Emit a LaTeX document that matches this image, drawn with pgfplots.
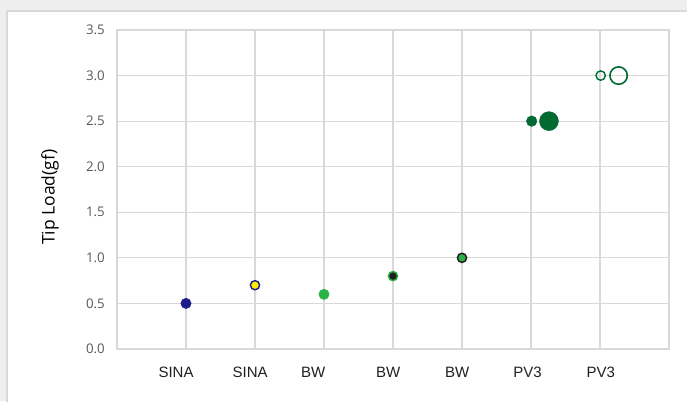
\documentclass[border=0pt]{standalone}
\usepackage{pgfplots}
\pgfplotsset{compat=1.18}
\usepackage{fontspec}
\setmainfont{Liberation Sans}
\newfontfamily\tickfont{Open Sans}
\definecolor{gridgrey}{HTML}{D9D9D9}
\definecolor{bggrey}{HTML}{EEEEEE}
\definecolor{tickgrey}{HTML}{595959}
\definecolor{navy}{HTML}{1B1D8A}
\definecolor{yel}{HTML}{FFEC00}
\definecolor{grn}{HTML}{2AB24A}
\definecolor{blk}{HTML}{231F20}
\definecolor{dgrn}{HTML}{006A30}
\begin{document}
\begin{tikzpicture}
\useasboundingbox (0,0) rectangle (687pt,401pt);
\fill[bggrey] (0,0) rectangle (687pt,401pt);
\fill[white] (7pt,0) rectangle (687pt,390pt);
\draw[gridgrey, line width=1.2pt] (7pt,-1pt) -- (7pt,390pt) -- (688pt,390pt);
\begin{axis}[
  at={(117pt,52pt)}, anchor=south west,
  scale only axis, width=552pt, height=319pt,
  xmin=0, xmax=8, ymin=0, ymax=3.5,
  xtick={1,2,3,4,5,6,7}, xticklabels={},
  ytick={0,0.5,1,1.5,2,2.5,3,3.5},
  major tick length=0pt,
  xmajorgrids, ymajorgrids,
  grid style={gridgrey, line width=1.1pt},
  axis line style={gridgrey, line width=1.1pt},
  yticklabel style={font=\tickfont\fontsize{13.3}{13.3}\selectfont, text=tickgrey, anchor=east, inner sep=0pt, xshift=-12pt,
    /pgf/number format/fixed, /pgf/number format/fixed zerofill, /pgf/number format/precision=1},
  /pgf/number format/assume math mode=true,
  extra x ticks={0.856,1.93,2.845,3.93,4.93,5.95,7.01},
  extra x tick labels={SINA,SINA,BW,BW,BW,PV3,PV3},
  extra x tick style={grid=none, major tick length=0pt,
    xticklabel style={font=\fontsize{15}{15}\selectfont, text=blk, anchor=base, inner sep=0pt, yshift=-28.5pt}},
  ylabel={Tip Load(gf)},
  ylabel style={font=\tickfont\fontsize{17.5}{17.5}\selectfont, text=black, at={(axis description cs:-0.1214,0.476)}, anchor=center},
  clip=false,
]
\addplot[only marks, mark=*, mark size=5.2pt, mark options={fill=navy, draw=navy, line width=0.4pt}] coordinates {(1,0.5)};
\addplot[only marks, mark=*, mark size=4.6pt, mark options={fill=yel, draw=navy, line width=1.4pt}] coordinates {(2,0.7)};
\addplot[only marks, mark=*, mark size=5.2pt, mark options={fill=grn, draw=grn, line width=0.4pt}] coordinates {(3,0.6)};
\addplot[only marks, mark=*, mark size=4.6pt, mark options={fill=blk, draw=grn, line width=1.4pt}] coordinates {(4,0.8)};
\addplot[only marks, mark=*, mark size=4.6pt, mark options={fill=grn, draw=blk, line width=1.5pt}] coordinates {(5,1.0)};
\addplot[only marks, mark=*, mark size=5.3pt, mark options={fill=dgrn, draw=dgrn, line width=0.4pt}] coordinates {(6.01,2.5)};
\addplot[only marks, mark=*, mark size=9.5pt, mark options={fill=dgrn, draw=dgrn, line width=0.4pt}] coordinates {(6.26,2.5)};
\addplot[only marks, mark=o, mark size=4.7pt, mark options={draw=dgrn, line width=1.4pt}] coordinates {(7.01,3.0)};
\addplot[only marks, mark=o, mark size=8.7pt, mark options={draw=dgrn, line width=1.6pt}] coordinates {(7.27,3.0)};
\end{axis}
\end{tikzpicture}
\end{document}
